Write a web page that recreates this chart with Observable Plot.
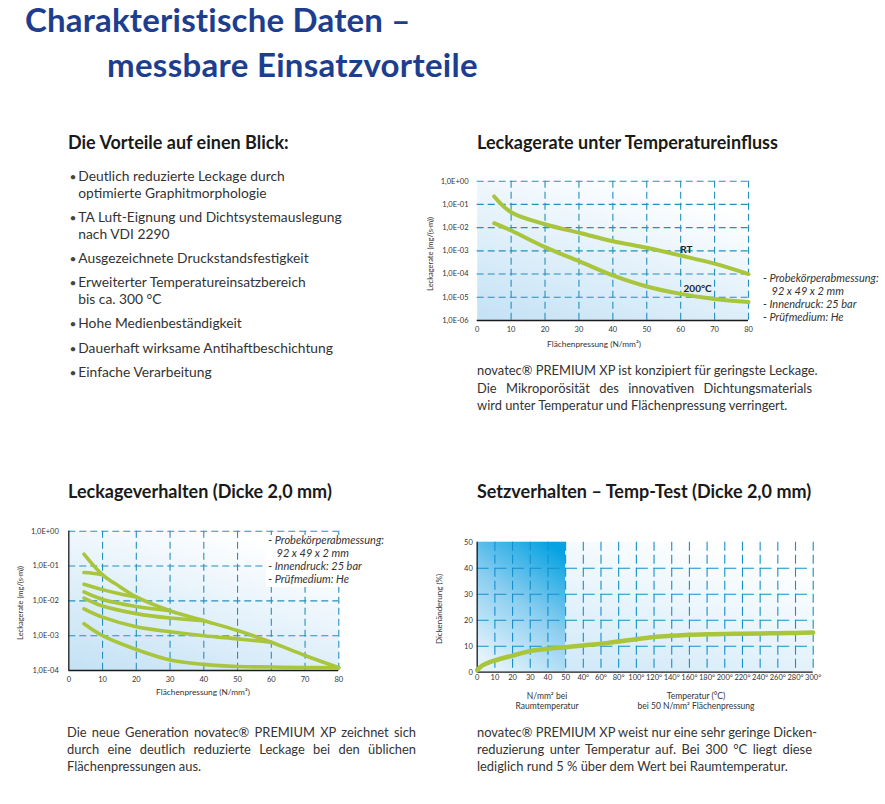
<!DOCTYPE html>
<html><head><meta charset="utf-8">
<script src="https://cdn.jsdelivr.net/npm/d3@7"></script>
<script src="https://cdn.jsdelivr.net/npm/@observablehq/plot@0.6"></script>
<style>
html,body{margin:0;padding:0;background:#fff;}
#page{position:relative;width:885px;height:804px;overflow:hidden;font-family:Lato,"Open Sans",sans-serif;color:#333;}
.t{position:absolute;white-space:nowrap;}
.c{position:absolute;white-space:nowrap;transform:translate(-50%,-50%);}
.r{position:absolute;white-space:nowrap;transform:translate(-50%,-50%) rotate(-90deg);}
svg{position:absolute;}
</style></head>
<body><div id="page"></div>
<script>
// ---------- data ----------
// Chart 1: Leckagerate unter Temperatureinfluss
const leakX = [5, 10, 20, 30, 40, 50, 60, 70, 80];
const leakRT = [2.2e-1, 4.6e-2, 1.4e-2, 6.0e-3, 2.6e-3, 1.35e-3, 6.3e-4, 2.8e-4, 1.0e-4];
const leak200 = [1.55e-2, 7.5e-3, 1.45e-3, 3.6e-4, 8.7e-5, 2.9e-5, 1.4e-5, 8.5e-6, 6.2e-6];
const leakSeriesLabels = [{x: 61.7, y: 1.15e-3, t: "RT"}, {x: 65.0, y: 2.4e-5, t: "200°C"}];
const xTicksP = [0, 10, 20, 30, 40, 50, 60, 70, 80];
const yTicks1 = [1e-6, 1e-5, 1e-4, 1e-3, 1e-2, 1e-1, 1];

// Chart 2: Leckageverhalten (Dicke 2,0 mm)
const c2A_x = [4.5, 10, 15, 20, 30, 40, 50, 60, 70, 80];
const c2A_y = [2.2e-1, 5.6e-2, 2.6e-2, 1.3e-2, 5.2e-3, 2.7e-3, 1.4e-3, 6.5e-4, 2.7e-4, 1.2e-4];
const c2B_x = [4.5, 7, 10];
const c2B_y = [6.5e-2, 6.2e-2, 5.6e-2];
const c2C_x = [4.5, 10, 15, 20];
const c2C_y = [3.0e-2, 2.1e-2, 1.6e-2, 1.3e-2];
const c2D_x = [4.5, 10, 20, 30];
const c2D_y = [1.8e-2, 1.1e-2, 6.9e-3, 5.2e-3];
const c2E_x = [4.5, 10, 20, 30, 40];
const c2E_y = [1.2e-2, 7.1e-3, 4.3e-3, 3.2e-3, 2.7e-3];
const c2F_x = [4.5, 10, 20, 30, 40, 50, 60];
const c2F_y = [5.9e-3, 3.4e-3, 1.8e-3, 1.3e-3, 1.0e-3, 8.1e-4, 6.5e-4];
const c2G_x = [4.5, 10, 20, 30, 40, 50, 60, 70, 80];
const c2G_y = [2.2e-3, 1.0e-3, 4.0e-4, 2.0e-4, 1.5e-4, 1.3e-4, 1.26e-4, 1.22e-4, 1.2e-4];
const yTicks2 = [1e-4, 1e-3, 1e-2, 1e-1, 1];

// Chart 3: Setzverhalten – Temp-Test
const setTickLabels = ["0","10","20","30","40","50","40°","60°","80°","100°","120°","140°","160°","180°","200°","220°","240°","260°","280°","300°"];
const setIdx = [0, 0.3, 1, 2, 3, 4, 5, 6, 7, 8, 9, 10, 11, 12, 13, 14, 15, 16, 17, 18, 19];
const setVal = [0.8, 2.6, 4.5, 6.4, 8.1, 9.0, 9.6, 10.3, 10.9, 11.8, 12.7, 13.5, 14.0, 14.4, 14.6, 14.7, 14.8, 14.9, 15.0, 15.1, 15.3];
const setRoomTempEnd = 5; // index of "50" (N/mm² bei Raumtemperatur)
const yTicks3 = [0, 10, 20, 30, 40, 50];

// texts
const bullets = [
  ["Deutlich reduzierte Leckage durch", "optimierte Graphitmorphologie"],
  ["TA Luft-Eignung und Dichtsystemauslegung", "nach VDI 2290"],
  ["Ausgezeichnete Druckstandsfestigkeit"],
  ["Erweiterter Temperatureinsatzbereich", "bis ca. 300 °C"],
  ["Hohe Medienbeständigkeit"],
  ["Dauerhaft wirksame Antihaftbeschichtung"],
  ["Einfache Verarbeitung"]
];
const notes = ["- Probekörperabmessung:", "92 x 49 x 2 mm", "- Innendruck: 25 bar", "- Prüfmedium: He"];

// ---------- helpers ----------
const page = document.getElementById("page");
const GRID = "#2590bd", GREEN = "#a9c53c", DARK = "#1a1a1a";
function txt(s, x, base, fs, st = {}) {
  const d = document.createElement("div");
  d.className = "t"; d.textContent = s;
  Object.assign(d.style, {left: x + "px", top: (base - 0.99 * fs) + "px", fontSize: fs + "px", lineHeight: (1.2 * fs) + "px"}, st);
  page.appendChild(d); return d;
}
function ctxt(s, x, y, fs, cls = "c", st = {}) {
  const d = document.createElement("div");
  d.className = cls; d.innerHTML = s;
  Object.assign(d.style, {left: x + "px", top: y + "px", fontSize: fs + "px", lineHeight: (1.2 * fs) + "px"}, st);
  page.appendChild(d); return d;
}
function just(s, x, base, fs, w) {
  return txt(s, x, base, fs, {width: w + "px", textAlign: "justify", textAlignLast: "justify"});
}
function grad(svg, id, x1, y1, x2, y2, stops) {
  let defs = d3.select(svg).select("defs");
  if (defs.empty()) defs = d3.select(svg).insert("defs", ":first-child");
  const g = defs.append("linearGradient").attr("id", id)
    .attr("x1", x1).attr("y1", y1).attr("x2", x2).attr("y2", y2);
  stops.forEach(([o, c]) => g.append("stop").attr("offset", o).attr("stop-color", c));
}
function place(svg, left, top) { svg.style.left = left + "px"; svg.style.top = top + "px"; page.appendChild(svg); }
const fmtE = d => { const e = Math.round(Math.log10(d)); return "1,0E" + (e < 0 ? "-" : "+") + String(Math.abs(e)).padStart(2, "0"); };
const axStyle = {fontFamily: "Lato, sans-serif", fontSize: "7.5px", color: "#333", background: "transparent", overflow: "visible"};

// ---------- titles ----------
const TITLE = "#1d3e8f";
txt("Charakteristische Daten –", 25, 33, 33, {fontWeight: 700, color: TITLE, letterSpacing: "0.2px"});
txt("messbare Einsatzvorteile", 107, 78, 33, {fontWeight: 700, color: TITLE, letterSpacing: "0.3px"});
const H = {fontWeight: 700, color: "#1a1a1a"};
txt("Die Vorteile auf einen Blick:", 68, 150, 18, H);
txt("Leckagerate unter Temperatureinfluss", 477, 150, 18, H);
txt("Leckageverhalten (Dicke 2,0 mm)", 68, 499, 18, H);
txt("Setzverhalten – Temp-Test (Dicke 2,0 mm)", 477, 499, 18, H);

// bullets
const bulletBase = [[182, 199], [223, 240], [264], [288, 305], [329], [354], [378]];
bullets.forEach((lines, i) => {
  txt("•", 69.5, bulletBase[i][0], 12, {color: "#444"});
  lines.forEach((l, j) => txt(l, 78.3, bulletBase[i][j], 13.8));
});

// paragraphs
const PF = 12.9;
just("novatec® PREMIUM XP ist konzipiert für geringste Leckage.", 477, 376, PF, 335);
just("Die Mikroporösität des innovativen Dichtungsmaterials", 477, 394, PF, 335);
txt("wird unter Temperatur und Flächenpressung verringert.", 477, 411, PF);

just("Die neue Generation novatec® PREMIUM XP zeichnet sich", 67, 738, PF, 349);
just("durch eine deutlich reduzierte Leckage bei den üblichen", 67, 755, PF, 349);
txt("Flächenpressungen aus.", 67, 772, PF);

just("novatec® PREMIUM XP weist nur eine sehr geringe Dicken-", 477, 738, PF, 335);
just("reduzierung unter Temperatur auf. Bei 300 °C liegt diese", 477, 755, PF, 335);
txt("lediglich rund 5 % über dem Wert bei Raumtemperatur.", 477, 772, PF);

// ---------- chart 1 ----------
const rows1 = [
  ...leakX.map((x, i) => ({x, y: leakRT[i], s: "RT"})),
  ...leakX.map((x, i) => ({x, y: leak200[i], s: "200°C"}))
];
const p1 = Plot.plot({
  width: 480, height: 190,
  marginLeft: 76.7, marginRight: 132, marginTop: 10.7, marginBottom: 40,
  style: axStyle,
  x: {domain: [0, 80], ticks: xTicksP, tickSize: 0, tickPadding: 6, label: null},
  y: {type: "log", domain: [1e-6, 1], ticks: yTicks1, tickFormat: fmtE, tickSize: 0, tickPadding: 8.7, label: null},
  marks: [
    Plot.frame({fill: "url(#g1)", stroke: "none"}),
    Plot.ruleX(xTicksP.filter(d => d > 0), {stroke: GRID, strokeDasharray: "7,4", strokeWidth: 1.1}),
    Plot.ruleY(yTicks1.filter(d => d > 1e-6), {stroke: GRID, strokeDasharray: "7,4", strokeWidth: 1.1}),
    Plot.ruleY([1e-6], {stroke: DARK, strokeWidth: 1.3}),
    Plot.line(rows1, {x: "x", y: "y", z: "s", stroke: GREEN, strokeWidth: 4, curve: "catmull-rom", strokeLinecap: "round"}),
    Plot.text(leakSeriesLabels, {x: "x", y: "y", text: "t", fontWeight: "bold", fontSize: 10, fill: "#222"})
  ]
});
grad(p1, "g1", 0, 1, 0.6, 0, [[0, "#c3e1f5"], [1, "#ffffff"]]);
place(p1, 400, 170);
ctxt("Leckagerate (mg/(s·m))", 430, 254, 7.5, "r");
ctxt("Flächenpressung (N/mm²)", 594, 345, 8.3);
const NI = {fontStyle: "italic", color: "#333"};
txt(notes[0], 763, 282, 11, NI);
txt(notes[1], 771.5, 294.5, 11, NI);
txt(notes[2], 763, 308, 11, NI);
txt(notes[3], 763, 321, 11, NI);

// ---------- chart 2 ----------
const c2 = [
  [c2A_x, c2A_y], [c2B_x, c2B_y], [c2C_x, c2C_y], [c2D_x, c2D_y],
  [c2E_x, c2E_y], [c2F_x, c2F_y], [c2G_x, c2G_y]
];
const rows2 = c2.flatMap(([xs, ys], k) => xs.map((x, i) => ({x, y: ys[i], s: k})));
const p2 = Plot.plot({
  width: 400, height: 185,
  marginLeft: 68.3, marginRight: 61.7, marginTop: 10.7, marginBottom: 35,
  style: axStyle,
  x: {domain: [0, 80], ticks: xTicksP, tickSize: 0, tickPadding: 6, label: null},
  y: {type: "log", domain: [1e-4, 1], ticks: yTicks2, tickFormat: fmtE, tickSize: 0, tickPadding: 10, label: null},
  marks: [
    Plot.frame({fill: "url(#g2)", stroke: "none"}),
    Plot.ruleX(xTicksP.filter(d => d > 0), {stroke: GRID, strokeDasharray: "7,4", strokeWidth: 1.1}),
    Plot.ruleY(yTicks2.filter(d => d > 1e-4), {stroke: GRID, strokeDasharray: "7,4", strokeWidth: 1.1}),
    Plot.ruleY([1e-4], {stroke: DARK, strokeWidth: 1.3}),
    Plot.ruleX([0], {stroke: DARK, strokeWidth: 1.3}),
    Plot.line(rows2, {x: "x", y: "y", z: "s", stroke: GREEN, strokeWidth: 3.6, curve: "catmull-rom", strokeLinecap: "round"})
  ]
});
grad(p2, "g2", 0, 1, 0.6, 0, [[0, "#c3e1f5"], [1, "#ffffff"]]);
place(p2, 0, 520);
ctxt("Leckagerate (mg/(s·m))", 20, 603, 7.5, "r");
ctxt("Flächenpressung (N/mm²)", 203, 693, 8.3);
const box = document.createElement("div");
Object.assign(box.style, {position: "absolute", left: "266px", top: "535px", width: "130px", height: "52px", background: "#fff"});
page.appendChild(box);
txt(notes[0], 268.3, 544, 11, NI);
txt(notes[1], 276.5, 556.5, 11, NI);
txt(notes[2], 268.3, 570, 11, NI);
txt(notes[3], 268.3, 582.5, 11, NI);

// ---------- chart 3 ----------
const rows3 = setIdx.map((x, i) => ({x, y: setVal[i]}));
const p3 = Plot.plot({
  width: 420, height: 160,
  marginLeft: 56.7, marginRight: 27.3, marginTop: 11.7, marginBottom: 18.3,
  style: axStyle,
  x: {domain: [0, setTickLabels.length - 1], ticks: d3.range(setTickLabels.length), tickFormat: i => setTickLabels[i], tickSize: 0, tickPadding: 2.5, label: null},
  y: {domain: [0, 50], ticks: yTicks3, tickSize: 0, tickPadding: 4.4, label: null},
  marks: [
    Plot.frame({fill: "url(#g3)", stroke: "none"}),
    Plot.rect([setRoomTempEnd], {x1: 0, x2: d => d, y1: 0, y2: 50, fill: "url(#g4)"}),
    Plot.ruleX(d3.range(1, setTickLabels.length), {stroke: "#1590cc", strokeDasharray: "9,4", strokeWidth: 1.1}),
    Plot.ruleY(yTicks3.filter(d => d > 0 && d < 50), {stroke: "#1590cc", strokeDasharray: "12,5.68", strokeWidth: 1.1}),
    Plot.ruleY([0], {stroke: DARK, strokeWidth: 1.3}),
    Plot.ruleX([0], {stroke: DARK, strokeWidth: 1.3}),
    Plot.line(rows3, {x: "x", y: "y", stroke: GREEN, strokeWidth: 4.5, curve: "catmull-rom", strokeLinecap: "round"})
  ]
});
grad(p3, "g3", 0, 1, 0.7, 0, [[0, "#c8e5f7"], [1, "#ffffff"]]);
grad(p3, "g4", 0.8, 0, 0.3, 1, [[0, "#06a2e2"], [0.5, "#8ccef0"], [1, "#e2f2fb"]]);
place(p3, 420, 530);
ctxt("Dickenänderung (%)", 440, 609, 8, "r");
ctxt("N/mm² bei<br>Raumtemperatur", 547, 701, 8.5, "c", {textAlign: "center"});
ctxt("Temperatur (°C)<br>bei 50 N/mm² Flächenpressung", 696, 701, 8.5, "c", {textAlign: "center"});
</script>
</body></html>
